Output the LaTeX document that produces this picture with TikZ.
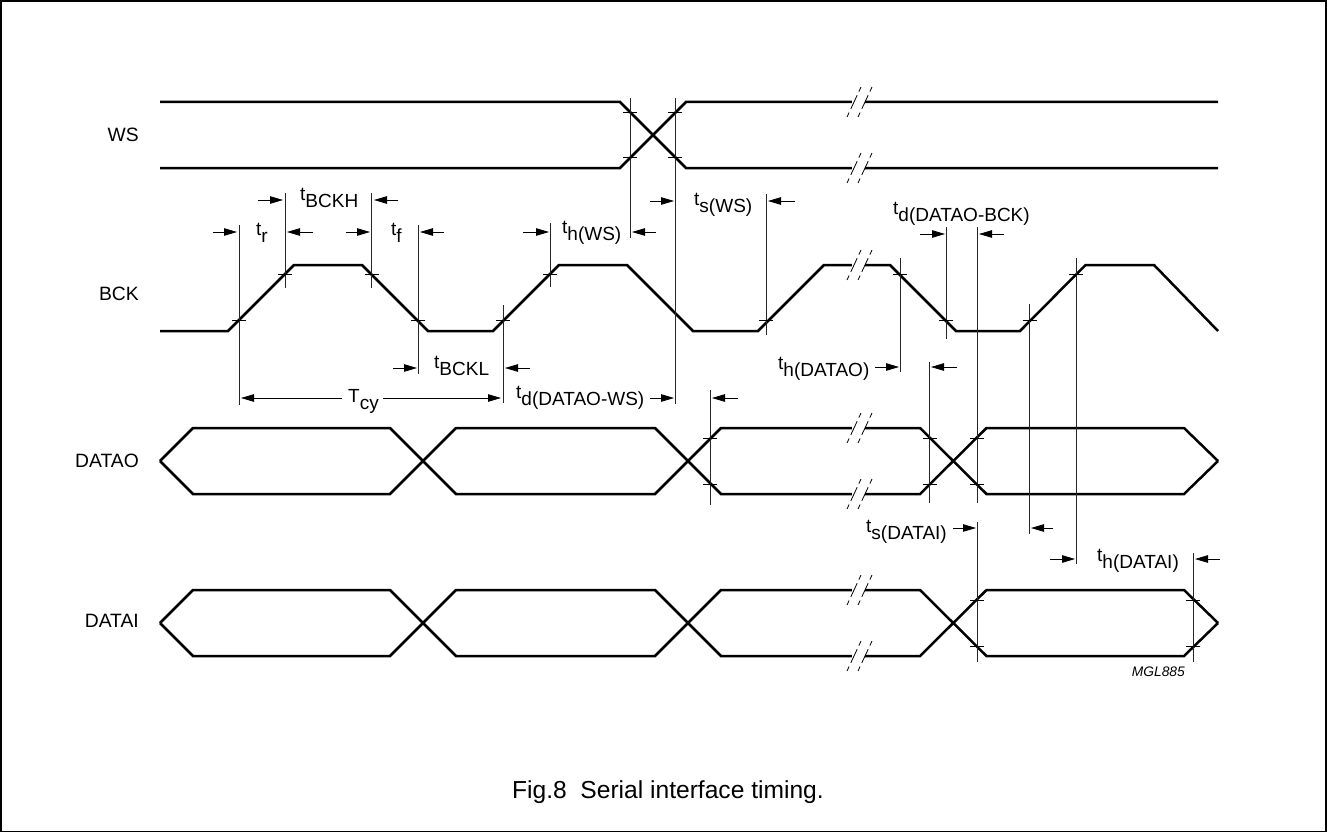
\documentclass[tikz,border=0pt]{standalone}
\usepackage{fontspec}
\setmainfont{Liberation Sans}
\usetikzlibrary{arrows.meta}
\newcommand\tsb[2]{#1\raisebox{-7.5pt}{#2}}
\tikzset{
  signal/.style={line width=2.5pt,line join=miter,black},
  guide/.style={line width=1pt,black!85},
  tick/.style={line width=0.8pt,black},
  dim/.style={line width=0.8pt,black,-{Triangle[length=13pt,width=7.5pt]}},
  slash/.style={line width=0.8pt,black,dash pattern=on 5pt off 4pt on 15pt off 4pt on 5pt off 40pt},
  lab/.style={inner sep=0pt,anchor=base west,font=\fontsize{19}{22}\selectfont},
  siglab/.style={inner sep=0pt,anchor=base east,font=\fontsize{19.3}{22}\selectfont},
}
\newcommand\brk[1]{%
  \fill[white] (852,#1-3) -- (865,#1-3) -- (865,#1+3) -- (852,#1+3) -- cycle;
  \draw[slash] (847,#1+15) -- (861,#1-15);
  \draw[slash] (858,#1+15) -- (872,#1-15);
}
\newcommand\tk[2]{\draw[tick] (#1-7,#2) -- (#1+7,#2);}
\newcommand\vl[3]{\draw[guide] (#1,#2) -- (#1,#3);}
\newcommand\dm[3]{\draw[dim] (#1,#3) -- (#2,#3);}
\begin{document}
\begin{tikzpicture}[x=1pt,y=-1pt]
\useasboundingbox (0,0) rectangle (1327,832);
\draw[line width=1.5pt] (1,1) rectangle (1326,831.5);
% signals
\draw[signal] (160,102) -- (620,102) -- (686,168) -- (1218,168);
\draw[signal] (160,168) -- (620,168) -- (686,102) -- (1218,102);
\draw[signal] (160,331) -- (228,331) -- (294,265) -- (362,265) -- (428,331) -- (493,331) -- (559,265) -- (627,265) -- (693,331) -- (758,331) -- (824,265) -- (890,265) -- (956,331) -- (1020,331) -- (1085.5,265) -- (1154,265) -- (1218,331);
\draw[signal] (160,461) -- (193,428) -- (390,428) -- (456,494) -- (655,494) -- (721,428) -- (920,428) -- (986.5,494) -- (1184,494) -- (1218,461);
\draw[signal] (160,461) -- (193,494) -- (390,494) -- (456,428) -- (655,428) -- (721,494) -- (920,494) -- (986.5,428) -- (1184,428) -- (1218,461);
\draw[signal] (160,623) -- (193,590) -- (390,590) -- (456,656) -- (655,656) -- (721,590) -- (920,590) -- (986.5,656) -- (1184,656) -- (1218,623);
\draw[signal] (160,623) -- (193,656) -- (390,656) -- (456,590) -- (655,590) -- (721,656) -- (920,656) -- (986.5,590) -- (1184,590) -- (1218,623);
% breaks
\brk{102}\brk{168}\brk{265}\brk{428}\brk{494}\brk{590}\brk{656}
% guides
\vl{239}{225}{405}
\vl{285}{193}{288}
\vl{371.5}{193}{288}
\vl{418}{225}{374}
\vl{503}{305}{403}
\vl{550}{223}{287}
\vl{630}{98}{238}
\vl{675}{98}{404}
\vl{766}{194}{335}
\vl{900}{258}{372}
\vl{946}{227}{339}
\vl{977}{227}{503}
\vl{929.5}{362}{503}
\vl{710}{390}{505}
\vl{1029.5}{304}{534}
\vl{1076}{258}{564}
\vl{977}{522}{662}
\vl{1193}{553}{662}
% ticks
\tk{630}{112}\tk{630}{157}\tk{675}{112}\tk{675}{157}
\tk{239}{320}\tk{285}{274}\tk{371.5}{274}\tk{418}{320}\tk{503}{320}\tk{550}{274}\tk{766}{320}
\tk{900}{274}\tk{946}{320}\tk{1029.5}{320}\tk{1076}{274}
\tk{710}{438}\tk{710}{484}\tk{929.5}{438}\tk{929.5}{484}\tk{977}{438}\tk{977}{484}
\tk{977}{600}\tk{977}{646}\tk{1193}{600}\tk{1193}{646}
% dimension arrows
\dm{213}{237}{232}\dm{313}{287}{232}
\dm{258}{283}{200}\dm{398}{374}{200}
\dm{346}{370}{232}\dm{444}{420}{232}
\dm{393}{417}{368}\dm{530}{505}{368}
\dm{342}{241}{398}\dm{383}{501}{398}
\dm{523}{549}{232}\dm{656}{632}{232}
\dm{650}{674}{201}\dm{795}{768}{201}
\dm{920}{945}{234}\dm{1004}{979}{234}
\dm{875}{899}{367}\dm{957}{931}{367}
\dm{650}{674}{398}\dm{738}{712}{398}
\dm{953}{976}{528}\dm{1053}{1031}{528}
\dm{1050}{1075}{559}\dm{1220}{1195}{559}
% labels
\node[siglab] (lws) at (139,142) {WS};
\node[siglab] (lbck) at (139,300) {BCK};
\node[siglab] (ldo) at (139,467) {DATAO};
\node[siglab] (ldi) at (139,627) {DATAI};
\node[lab] (tr) at (256,235) {\tsb{t}{r}};
\node[lab] (tf) at (391,235) {\tsb{t}{f}};
\node[lab] (tbckh) at (300,200) {\tsb{t}{BCKH}};
\node[lab] (tbckl) at (434,368) {\tsb{t}{BCKL}};
\node[lab] (tcy) at (348,402) {\tsb{T}{cy}};
\node[lab] (thws) at (562,233) {\tsb{t}{h(WS)}};
\node[lab] (tsws) at (694,205) {\tsb{t}{s(WS)}};
\node[lab] (tdbck) at (893,214) {\tsb{t}{d(DATAO-BCK)}};
\node[lab] (thdo) at (778,369) {\tsb{t}{h(DATAO)}};
\node[lab] (tdws) at (516,398) {\tsb{t}{d(DATAO-WS)}};
\node[lab] (tsdi) at (866,532) {\tsb{t}{s(DATAI)}};
\node[lab] (thdi) at (1097,561) {\tsb{t}{h(DATAI)}};
\node[inner sep=0pt,anchor=base east,font=\fontsize{13.8}{16}\selectfont\itshape] (mgl) at (1185,676) {MGL885};
\node[inner sep=0pt,anchor=base east,font=\fontsize{24.6}{28}\selectfont] (cap) at (824,798) {Fig.8\hspace{0.55em}Serial interface timing.};
\end{tikzpicture}
\end{document}
